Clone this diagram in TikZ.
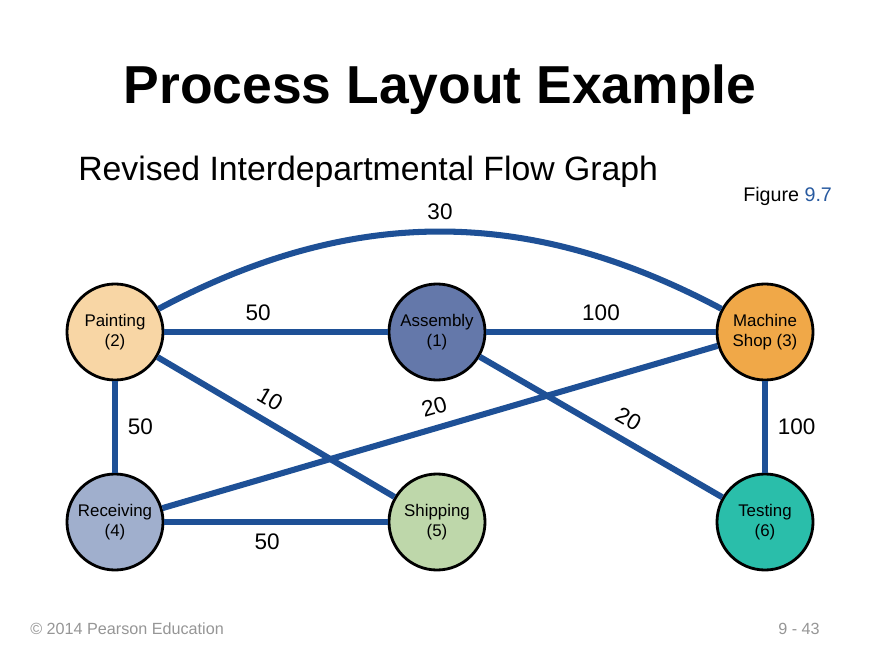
\documentclass[tikz,border=0pt]{standalone}
\usepackage{fontspec}
\setmainfont{Liberation Sans}
\usetikzlibrary{positioning}
\definecolor{flowblue}{RGB}{30,80,150}
\definecolor{figblue}{RGB}{40,90,160}
\definecolor{footgray}{RGB}{150,150,150}
\definecolor{paintc}{RGB}{248,214,165}
\definecolor{assemc}{RGB}{100,120,170}
\definecolor{machc}{RGB}{240,168,72}
\definecolor{recvc}{RGB}{160,175,205}
\definecolor{shipc}{RGB}{190,215,170}
\definecolor{testc}{RGB}{42,190,170}
\tikzstyle{dept}=[circle,draw=black,line width=2pt,minimum size=2.4cm,inner sep=0pt,align=center,font=\fontsize{12}{14}\selectfont]
\tikzstyle{flow}=[draw=flowblue,line width=4.3pt]
\tikzstyle{wt}=[font=\fontsize{16}{18}\selectfont,inner sep=2pt]

\begin{document}
\begin{tikzpicture}[x=0.025cm,y=0.025cm]
        \useasboundingbox[fill=white] (0,0) rectangle (880,660);
        \node[anchor=base,font=\fontsize{38}{44}\selectfont\bfseries] (title) at (440,556) {Process Layout Example};
        \node[anchor=base west,inner sep=0pt,font=\fontsize{24}{28}\selectfont] (sub) at (78,480) {Revised Interdepartmental Flow Graph};
        \node[anchor=base west,inner sep=0pt,font=\fontsize{14}{16}\selectfont] (fig) at (743,458) {Figure \textcolor{figblue}{9.7}};
        \node[dept,fill=paintc] (P) at (115,328) {Painting\\(2)};
        \node[dept,fill=assemc] (A) at (437,328) {Assembly\\(1)};
        \node[dept,fill=machc] (M) at (765,328) {Machine\\Shop (3)};
        \node[dept,fill=recvc] (R) at (115,138) {Receiving\\(4)};
        \node[dept,fill=shipc] (S) at (437,138) {Shipping\\(5)};
        \node[dept,fill=testc] (T) at (765,138) {Testing\\(6)};
        \draw[flow] (P) edge[bend left=28] node[wt,above=4pt] {30} (M);
        \draw[flow] (P) edge node[wt,above=4pt,pos=0.42] {50} (A);
        \draw[flow] (A) edge node[wt,above=4pt,pos=0.5] {100} (M);
        \draw[flow] (P) edge node[wt,right=5pt] {50} (R);
        \draw[flow] (M) edge node[wt,right=5pt] {100} (T);
        \draw[flow] (R) edge node[wt,below=4pt,pos=0.46] {50} (S);
        \draw[flow] (P) edge node[wt,sloped,above=5pt,pos=0.43] {10} (S);
        \draw[flow] (R) edge node[wt,sloped,above=5pt,pos=0.5] {20} (M);
        \draw[flow] (A) edge node[wt,sloped,above=5pt,pos=0.57] {20} (T);
        \node[anchor=base west,inner sep=0pt,text=footgray,font=\fontsize{11.5}{13}\selectfont] (copy) at (30,26) {\textcopyright{} 2014 Pearson Education};
        \node[anchor=base west,inner sep=0pt,text=footgray,font=\fontsize{11.5}{13}\selectfont] (page) at (778,26) {9 - 43};
      \end{tikzpicture}
\end{document}
